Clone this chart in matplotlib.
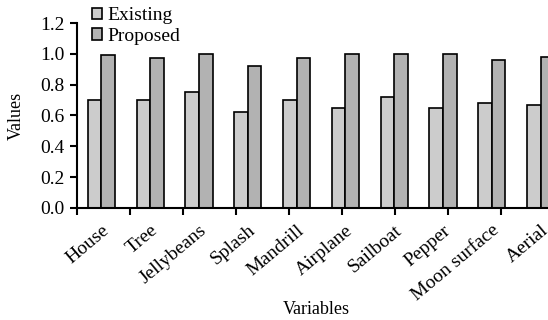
import numpy as np
import matplotlib
matplotlib.use("Agg")
import matplotlib.pyplot as plt
import matplotlib.transforms as mtransforms

#Chart data
categories = ["House", "Tree", "Jellybeans", "Splash", "Mandrill",
              "Airplane", "Sailboat", "Pepper", "Moon surface", "Aerial"]
existing = [0.70, 0.70, 0.75, 0.62, 0.70, 0.65, 0.72, 0.65, 0.68, 0.67]
proposed = [0.99, 0.97, 1.00, 0.92, 0.97, 1.00, 1.00, 1.00, 0.96, 0.98]
yticks = [0.0, 0.2, 0.4, 0.6, 0.8, 1.0, 1.2]

plt.rcParams["font.family"] = ["Liberation Serif", "DejaVu Serif"]
plt.rcParams["font.size"] = 14

fig = plt.figure(figsize=(5.48, 3.2), dpi=100)
#axis runs past the right edge like the cropped original
ax = fig.add_axes([77 / 548, (320 - 208) / 320, 488 / 548, 185 / 320])

x = np.arange(len(categories)) + 0.5
w = 0.28
ax.bar(x - w / 2, existing, w, color="#cccccc", edgecolor="black", linewidth=1.2, label="Existing")
ax.bar(x + w / 2, proposed, w, color="#b2b2b2", edgecolor="black", linewidth=1.2, label="Proposed")

ax.set_xlim(0, len(categories))
ax.set_ylim(0, 1.2)
ax.set_yticks(yticks)
ax.set_yticklabels([f"{v:.1f}" for v in yticks])

#tick marks in the original are spaced a bit wider than the bar groups
ax.set_xticks(np.arange(0, len(categories), 1.085))
ax.set_xticklabels([])
ax.set_xticks(x, minor=True)
ax.set_xticklabels(categories, minor=True, rotation=40, ha="right",
                   rotation_mode="anchor")
shift = mtransforms.ScaledTranslation(11 / 72, 0, fig.dpi_scale_trans)
for lab in ax.get_xticklabels(minor=True):
    lab.set_transform(lab.get_transform() + shift)
ax.tick_params(axis="x", which="minor", length=0, pad=10)
ax.tick_params(axis="x", which="major", direction="out", length=5, width=1.5)
ax.tick_params(axis="y", direction="out", length=5, width=1.5, pad=4)

for s in ["top", "right"]:
    ax.spines[s].set_visible(False)
for s in ["left", "bottom"]:
    ax.spines[s].set_linewidth(1.5)

ax.set_xlabel("Variables", fontsize=13)
ax.xaxis.set_label_coords(0.49, -0.50)
ax.set_ylabel("Values", fontsize=13)
ax.yaxis.set_label_coords(-0.107, 0.5)

ax.legend(loc="upper left", bbox_to_anchor=(92 / 548, 313 / 320), bbox_transform=fig.transFigure,
          frameon=False, handlelength=0.5, handleheight=0.5, handletextpad=0.3,
          labelspacing=0.2, borderaxespad=0, borderpad=0)

fig.savefig("out.png", dpi=100)
